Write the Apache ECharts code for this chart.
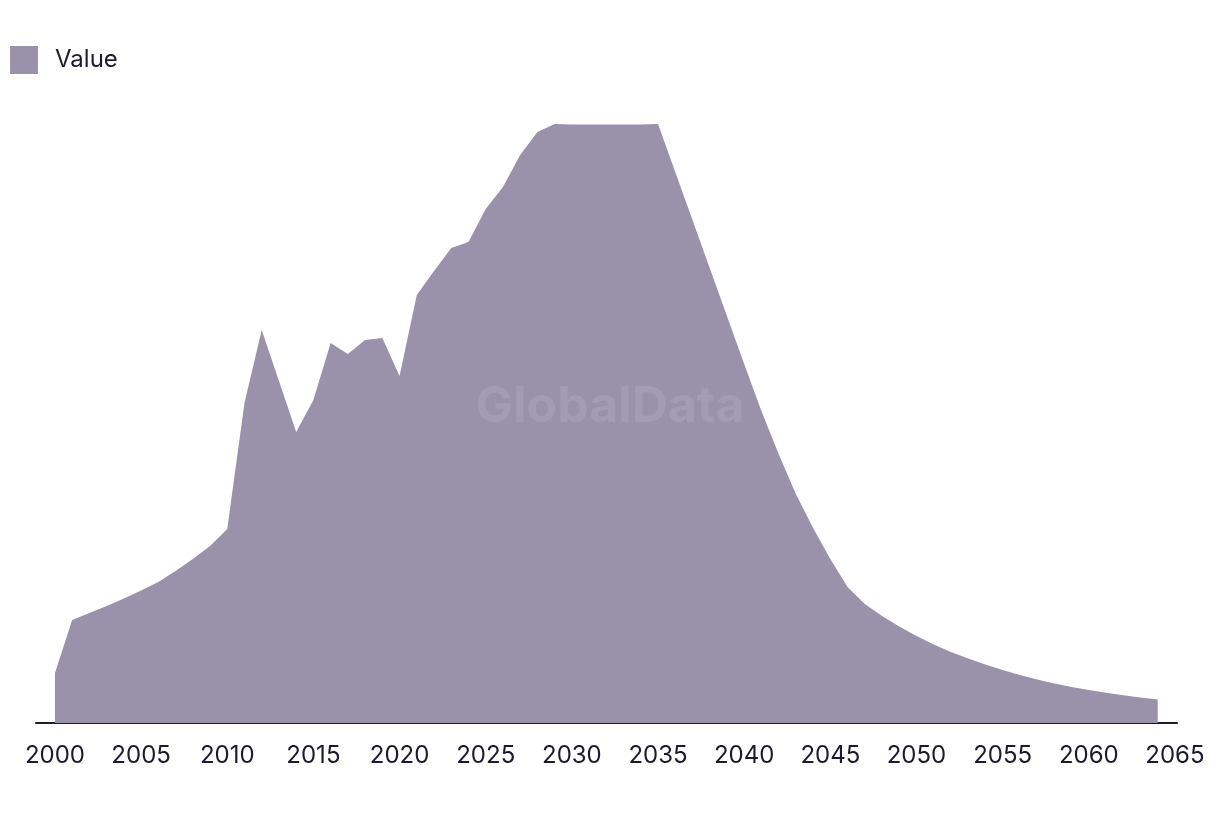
<!DOCTYPE html>
<html>
<head>
<meta charset="utf-8">
<script src="https://cdn.jsdelivr.net/npm/echarts@6/dist/echarts.min.js"></script>
<style>
html,body{margin:0;padding:0;background:#fff;}
#chart{width:1220px;height:814px;}
</style>
</head>
<body>
<div id="chart"></div>
<script>
// Years (x) and values (relative units)
var years = [];
for (var y = 2000; y <= 2064; y++) years.push(y);
var values = [
  50, 103, 110, 117, 124.5, 132.5, 141, 152, 164, 177,
  194, 320, 393, 342, 291, 323, 380, 369, 383, 385,
  347, 428, 452, 475, 481, 514, 536, 568, 591, 599,
  598.5, 598.5, 598.5, 598.5, 598.5, 599, 551, 503, 455, 407,
  359, 312, 269, 229, 195, 164, 136, 119, 107, 96.5,
  87, 78.5, 71, 64.5, 58.5, 53, 48, 43.5, 39.5, 36,
  33, 30.2, 27.8, 25.6, 23.5
];
var tickLabels = [2000, 2005, 2010, 2015, 2020, 2025, 2030, 2035, 2040, 2045, 2050, 2055, 2060, 2065];
var seriesName = 'Value';

var pairs = years.map(function (yr, i) { return [yr, values[i]]; });

var chart = echarts.init(document.getElementById('chart'), null, {renderer: 'canvas'});
var FONT = 'Inter, "DejaVu Sans", sans-serif';
chart.setOption({
  animation: false,
  backgroundColor: '#ffffff',
  textStyle: {fontFamily: FONT},
  legend: {
    left: 5,
    top: 41,
    itemWidth: 28,
    itemHeight: 28,
    icon: 'rect',
    textStyle: {fontFamily: FONT, fontSize: 24, color: '#1c1b2e', padding: [0, 0, 0, 12]},
    data: [seriesName]
  },
  graphic: [{
    type: 'text',
    left: 'center',
    top: 'middle',
    silent: true,
    z: 100,
    style: {
      text: 'GlobalData',
      fontFamily: FONT,
      fontWeight: 'bold',
      fontSize: 50,
      fill: 'rgba(255,255,255,0.1)'
    }
  }],
  grid: {left: 36, right: 43, top: 123, bottom: 91, containLabel: false},
  xAxis: {
    type: 'value',
    min: 1998.9,
    max: 2065.12,
    axisLine: {show: true, lineStyle: {color: '#1c1b2e', width: 2}},
    axisTick: {show: false},
    splitLine: {show: false},
    axisLabel: {
      customValues: tickLabels,
      margin: 21,
      fontFamily: FONT,
      fontSize: 24,
      color: '#1c1b2e',
      formatter: function (v) { return String(v); }
    }
  },
  yAxis: {
    type: 'value',
    min: 0,
    max: 600,
    show: false,
    splitLine: {show: false}
  },
  series: [{
    name: seriesName,
    type: 'line',
    data: pairs,
    showSymbol: false,
    symbol: 'none',
    lineStyle: {width: 0, color: '#9a91aa'},
    itemStyle: {color: '#9a91aa'},
    areaStyle: {color: '#9a91aa', opacity: 1},
    z: 1
  }]
});
</script>
</body>
</html>
